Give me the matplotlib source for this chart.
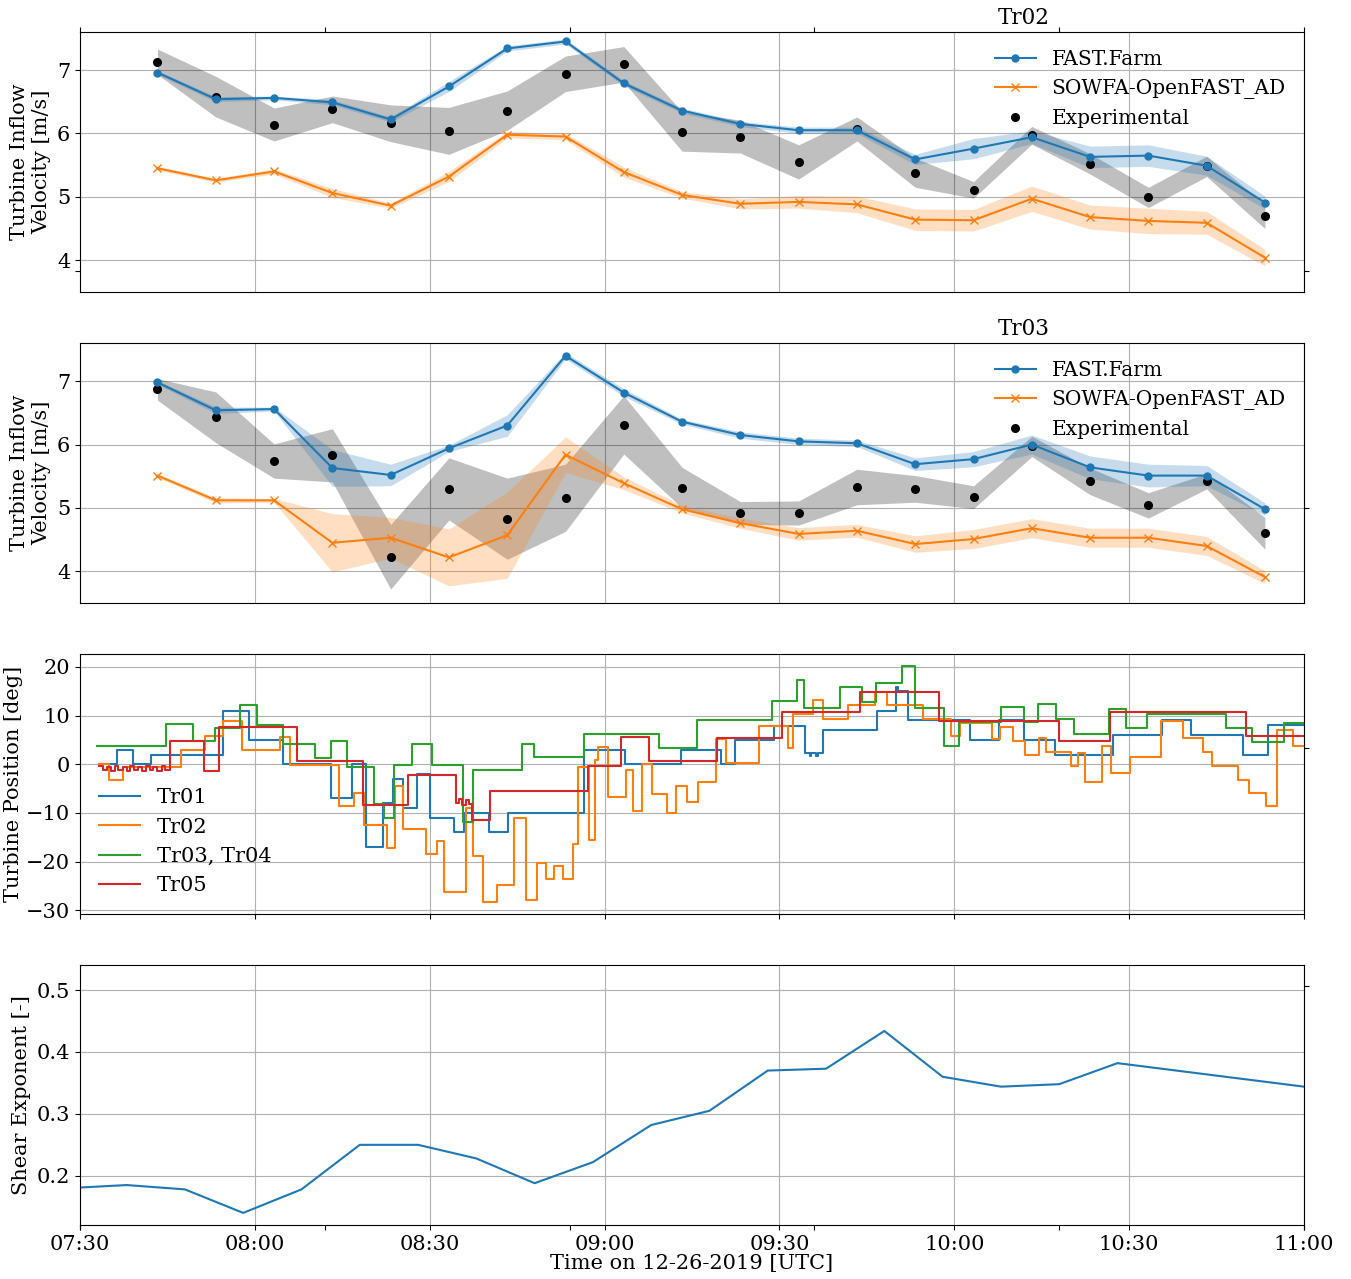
import numpy as np
import matplotlib
matplotlib.use("Agg")
import matplotlib.pyplot as plt
import matplotlib.dates as mdates
from matplotlib.ticker import MultipleLocator

plt.rcParams["font.family"] = "serif"
plt.rcParams["font.serif"] = ["DejaVu Serif"]
plt.rcParams["font.size"] = 15

# ---- data (minutes after 07:30 UTC on 12-26-2019) ----
vel_minutes = [13.3, 23.3, 33.3, 43.3, 53.3, 63.3, 73.3, 83.3, 93.3, 103.3,
               113.3, 123.3, 133.3, 143.3, 153.3, 163.3, 173.3, 183.3, 193.3, 203.3]

# Tr02
ff02 = [6.96, 6.54, 6.56, 6.49, 6.22, 6.74, 7.34, 7.45, 6.79, 6.36,
        6.15, 6.05, 6.05, 5.59, 5.76, 5.94, 5.63, 5.65, 5.49, 4.91]
ff02_std = [0.03, 0.04, 0.03, 0.04, 0.04, 0.08, 0.04, 0.04, 0.04, 0.04,
            0.04, 0.05, 0.05, 0.08, 0.16, 0.10, 0.17, 0.17, 0.15, 0.10]
sowfa02 = [5.45, 5.26, 5.40, 5.06, 4.86, 5.32, 5.98, 5.95, 5.39, 5.03,
           4.89, 4.92, 4.88, 4.64, 4.63, 4.97, 4.68, 4.62, 4.59, 4.04]
sowfa02_std = [0.03, 0.03, 0.04, 0.07, 0.04, 0.08, 0.05, 0.05, 0.08, 0.05,
               0.08, 0.10, 0.13, 0.17, 0.17, 0.20, 0.19, 0.20, 0.18, 0.13]
exp02 = [7.13, 6.58, 6.14, 6.38, 6.16, 6.04, 6.36, 6.94, 7.09, 6.03,
         5.95, 5.55, 6.07, 5.38, 5.11, 5.97, 5.52, 4.99, 5.48, 4.69]
exp02_std = [0.20, 0.32, 0.26, 0.21, 0.29, 0.37, 0.31, 0.28, 0.28, 0.31,
             0.26, 0.27, 0.19, 0.23, 0.13, 0.14, 0.16, 0.16, 0.16, 0.19]

# Tr03
ff03 = [6.98, 6.54, 6.56, 5.63, 5.52, 5.94, 6.30, 7.40, 6.82, 6.36,
        6.15, 6.05, 6.02, 5.69, 5.77, 6.00, 5.64, 5.51, 5.51, 4.98]
ff03_std = [0.03, 0.05, 0.03, 0.29, 0.17, 0.05, 0.17, 0.05, 0.06, 0.04,
            0.05, 0.05, 0.05, 0.10, 0.12, 0.15, 0.18, 0.18, 0.16, 0.10]
sowfa03 = [5.51, 5.12, 5.12, 4.45, 4.53, 4.22, 4.57, 5.84, 5.39, 4.98,
           4.76, 4.59, 4.64, 4.43, 4.51, 4.68, 4.53, 4.53, 4.40, 3.91]
sowfa03_std = [0.03, 0.04, 0.03, 0.46, 0.32, 0.45, 0.68, 0.28, 0.10, 0.06,
               0.08, 0.10, 0.10, 0.13, 0.15, 0.15, 0.15, 0.15, 0.15, 0.10]
exp03 = [6.87, 6.43, 5.74, 5.83, 4.23, 5.30, 4.83, 5.16, 6.31, 5.32,
         4.92, 4.92, 5.33, 5.30, 5.17, 5.97, 5.42, 5.04, 5.42, 4.60]
exp03_std = [0.17, 0.40, 0.27, 0.42, 0.51, 0.49, 0.64, 0.53, 0.46, 0.32,
             0.18, 0.19, 0.28, 0.21, 0.18, 0.16, 0.21, 0.20, 0.12, 0.25]

# turbine yaw position, step changes: start minute -> value [deg]
yaw_tr01_t = [3.3, 6.4, 9.1, 12.1, 24.6, 29.0, 34.9, 43.0, 46.7, 49.0, 52.0, 53.7, 55.5,
              57.8, 60.1, 64.2, 65.9, 70.2, 73.4, 86.5, 93.5, 103.2, 110.0, 112.4, 119.1,
              124.4, 125.2, 125.5, 126.3, 126.6, 127.4, 136.7, 140.0, 140.4, 142.0, 152.7,
              157.6, 162.0, 167.3, 177.3, 185.6, 190.7, 199.6, 203.9, 210.0]
yaw_tr01 = [0.0, 3.0, 0.0, 2.0, 11.0, 5.0, 0.0, -7.0, 0.0, -17.0, -8.0, -3.0, -9.0,
            -2.0, -11.0, -14.0, -10.0, -14.0, -10.0, 3.0, 0.0, 3.0, 0.0, 5.0, 7.9,
            2.3, 1.6, 2.3, 1.6, 2.3, 7.0, 11.0, 15.8, 15.0, 9.0, 5.0,
            9.0, 5.0, 2.0, 6.0, 9.0, 6.0, 2.0, 8.0, 8.0]
yaw_tr02_t = [3.3, 5.0, 7.3, 17.3, 21.5, 24.6, 27.8, 34.3, 36.1, 44.4, 47.0, 48.7, 52.6,
              54.1, 55.5, 59.4, 61.3, 62.4, 66.2, 67.5, 69.2, 71.6, 74.5, 76.5, 78.4,
              79.9, 81.3, 82.9, 84.6, 85.5, 87.4, 88.4, 88.8, 90.6, 93.6, 94.8, 96.4,
              98.2, 100.7, 102.2, 104.1, 106.1, 109.1, 110.8, 116.5, 121.4, 122.4, 125.8,
              127.5, 131.7, 136.4, 138.5, 144.6, 149.4, 151.0, 156.4, 157.8, 160.0, 162.1,
              164.5, 165.7, 170.0, 171.3, 172.5, 175.3, 176.9, 180.1, 185.5, 189.2, 192.6,
              194.2, 198.7, 200.6, 203.4, 205.3, 208.2, 210.0]
yaw_tr02 = [0.0, -3.2, -0.6, 3.0, 5.9, 8.8, 3.0, 5.6, -0.1, -8.6, -5.9, -12.5, -17.3,
            -4.4, -13.3, -18.4, -15.8, -26.3, -9.0, -18.9, -28.3, -24.8, -11.0, -27.9, -20.3,
            -23.6, -21.0, -23.6, -16.4, -0.5, -15.6, 0.8, 3.6, -6.8, -1.2, -9.7, 0.1,
            -6.2, -10.1, -4.4, -7.8, -3.6, 5.2, 0.2, 7.9, 3.4, 10.3, 13.2,
            9.3, 12.1, 14.9, 12.1, 9.2, 5.7, 8.5, 5.1, 7.7, 4.7, 1.8,
            5.3, 2.5, -0.3, 2.4, -3.6, 3.8, -1.9, 1.5, 8.8, 5.3, 2.5,
            -0.3, -3.2, -6.0, -8.6, 7.1, 3.7, 3.7]
yaw_tr03_t = [3.0, 14.8, 19.4, 23.1, 27.5, 30.4, 34.9, 40.4, 43.1, 45.8, 50.4, 52.1, 53.8,
              57.0, 60.4, 65.7, 67.5, 75.8, 77.9, 86.4, 99.4, 105.9, 118.8, 123.1, 124.3,
              130.4, 134.2, 136.6, 141.1, 143.3, 148.3, 150.8, 158.0, 162.0, 164.3, 167.4,
              170.6, 176.5, 179.4, 183.0, 196.7, 201.0, 206.6, 210.0]
yaw_tr03 = [3.7, 8.2, 4.7, 7.5, 12.1, 8.1, 4.2, 1.2, 4.8, -0.5, -8.1, -11.0, -0.1,
            4.2, -0.1, -11.9, -1.1, 4.2, 1.4, 6.2, 3.4, 9.0, 12.9, 17.3, 11.6,
            15.8, 12.7, 16.6, 20.2, 11.5, 3.8, 8.6, 11.8, 8.6, 12.4, 9.2,
            6.2, 11.4, 7.5, 10.4, 7.5, 4.6, 8.5, 8.5]
yaw_tr05_t = [3.3, 4.0, 4.6, 5.3, 6.0, 6.6, 7.3, 8.0, 8.6, 9.3, 10.0, 10.6, 11.3, 12.0,
              12.6, 13.3, 14.0, 14.6, 15.5, 21.3, 23.8, 37.3, 48.6, 56.2, 64.5, 65.1,
              65.6, 66.2, 66.7, 67.2, 70.3, 87.2, 92.9, 97.7, 109.3, 120.4, 133.8, 147.3,
              167.9, 176.7, 200.0, 210.0]
yaw_tr05 = [-0.4, -1.2, -0.5, -1.3, -0.4, -1.2, -0.5, -1.3, -0.4, -1.2, -0.5, -1.3, -0.4, -1.2,
            -0.5, -1.3, -0.4, -1.2, 4.7, -1.4, 7.7, 0.7, -8.3, -2.3, -7.9, -7.2,
            -8.3, -7.3, -8.2, -11.4, -5.4, -0.3, 5.6, 0.7, 5.4, 10.7, 14.8, 8.8,
            4.7, 10.7, 5.7, 5.7]

shear_minutes = [0, 8, 18, 28, 38, 48, 58, 68, 78, 88, 98, 108, 118, 128, 138, 148,
                 158, 168, 178, 210]
shear = [0.181, 0.185, 0.178, 0.140, 0.178, 0.250, 0.250, 0.228, 0.188, 0.222, 0.282,
         0.305, 0.370, 0.373, 0.434, 0.360, 0.344, 0.348, 0.382, 0.344]

START = np.datetime64("2019-12-26T07:30:00")


def to_time(minutes):
    secs = np.round(np.asarray(minutes, dtype=float) * 60).astype(int)
    return START + secs.astype("timedelta64[s]")


def velocity_panel(ax, title, ff, ff_std, sw, sw_std, ex, ex_std):
    t = to_time(vel_minutes)
    ff, ff_std = np.array(ff), np.array(ff_std)
    sw, sw_std = np.array(sw), np.array(sw_std)
    ex, ex_std = np.array(ex), np.array(ex_std)
    ax.fill_between(t, ex - ex_std, ex + ex_std, color="k", alpha=0.25, lw=0)
    ax.fill_between(t, ff - ff_std, ff + ff_std, color="tab:blue", alpha=0.25, lw=0)
    ax.fill_between(t, sw - sw_std, sw + sw_std, color="tab:orange", alpha=0.25, lw=0)
    h3, = ax.plot(t, ex, "o", color="k", ms=5.5, label="Experimental")
    h1, = ax.plot(t, ff, "-o", color="tab:blue", ms=5, lw=1.5, label="FAST.Farm")
    h2, = ax.plot(t, sw, "-x", color="tab:orange", ms=6, lw=1.5, label="SOWFA-OpenFAST_AD")
    ax.legend(handles=[h1, h2, h3], loc="upper right", frameon=False, fontsize=14.5)
    ax.set_ylim(3.5, 7.6)
    ax.yaxis.set_major_locator(MultipleLocator(1))
    ax.set_ylabel("Turbine Inflow\nVelocity [m/s]")
    ax.set_title(title, x=0.771, fontsize=15.5)
    ax.tick_params(axis="x", length=0)


def add_overlay(fig, ax, xpos, ytick, yside="right"):
    # extra, unlabelled axes sitting on top of the panel
    ov = fig.add_axes(ax.get_position())
    ov.patch.set_visible(False)
    for s in ov.spines.values():
        s.set_visible(False)
    ov.set_xlim(0, 1)
    ov.set_ylim(ax.get_ylim())
    ov.set_yticks([ytick])
    ov.yaxis.set_ticks_position(yside)
    if xpos is None:
        ov.set_xticks([])
    else:
        ov.xaxis.set_ticks_position(xpos)
    ov.tick_params(labelleft=False, labelright=False, labelbottom=False, labeltop=False)
    return ov


fig, axes = plt.subplots(4, 1, figsize=(13.51, 12.79), dpi=100, sharex=True)
fig.subplots_adjust(left=0.0592, right=0.9652, bottom=0.042, top=0.975, hspace=0.197)
ax1, ax2, ax3, ax4 = axes

velocity_panel(ax1, "Tr02", ff02, ff02_std, sowfa02, sowfa02_std, exp02, exp02_std)
velocity_panel(ax2, "Tr03", ff03, ff03_std, sowfa03, sowfa03_std, exp03, exp03_std)

for tt, vv, c, lab in [(yaw_tr01_t, yaw_tr01, "tab:blue", "Tr01"),
                       (yaw_tr02_t, yaw_tr02, "tab:orange", "Tr02"),
                       (yaw_tr03_t, yaw_tr03, "tab:green", "Tr03, Tr04"),
                       (yaw_tr05_t, yaw_tr05, "tab:red", "Tr05")]:
    ax3.step(to_time(tt), vv, where="post", color=c, lw=1.5, label=lab)
ax3.set_ylim(-30.8, 22.6)
ax3.yaxis.set_major_locator(MultipleLocator(10))
ax3.set_ylabel("Turbine Position [deg]", labelpad=2)
ax3.legend(loc="lower left", frameon=False, fontsize=15)

ax4.plot(to_time(shear_minutes), shear, color="tab:blue", lw=1.5)
ax4.set_ylim(0.12, 0.54)
ax4.yaxis.set_major_locator(MultipleLocator(0.1))
ax4.set_ylabel("Shear Exponent [-]")
ax4.set_xlabel("Time on 12-26-2019 [UTC]", labelpad=0)

ax4.set_xlim(START, START + np.timedelta64(210, "m"))
ax4.xaxis.set_major_locator(mdates.MinuteLocator(byminute=[0, 30]))
ax4.xaxis.set_major_formatter(mdates.DateFormatter("%H:%M"))

for ax in axes:
    ax.grid(True, color="#b0b0b0", lw=0.8)
    ax.set_axisbelow(True)

add_overlay(fig, ax1, "top", 3.83, "both")
add_overlay(fig, ax2, None, 5.0)
add_overlay(fig, ax3, None, 3.4)
add_overlay(fig, ax4, "bottom", 0.506)

fig.savefig("out.png", dpi=100)
